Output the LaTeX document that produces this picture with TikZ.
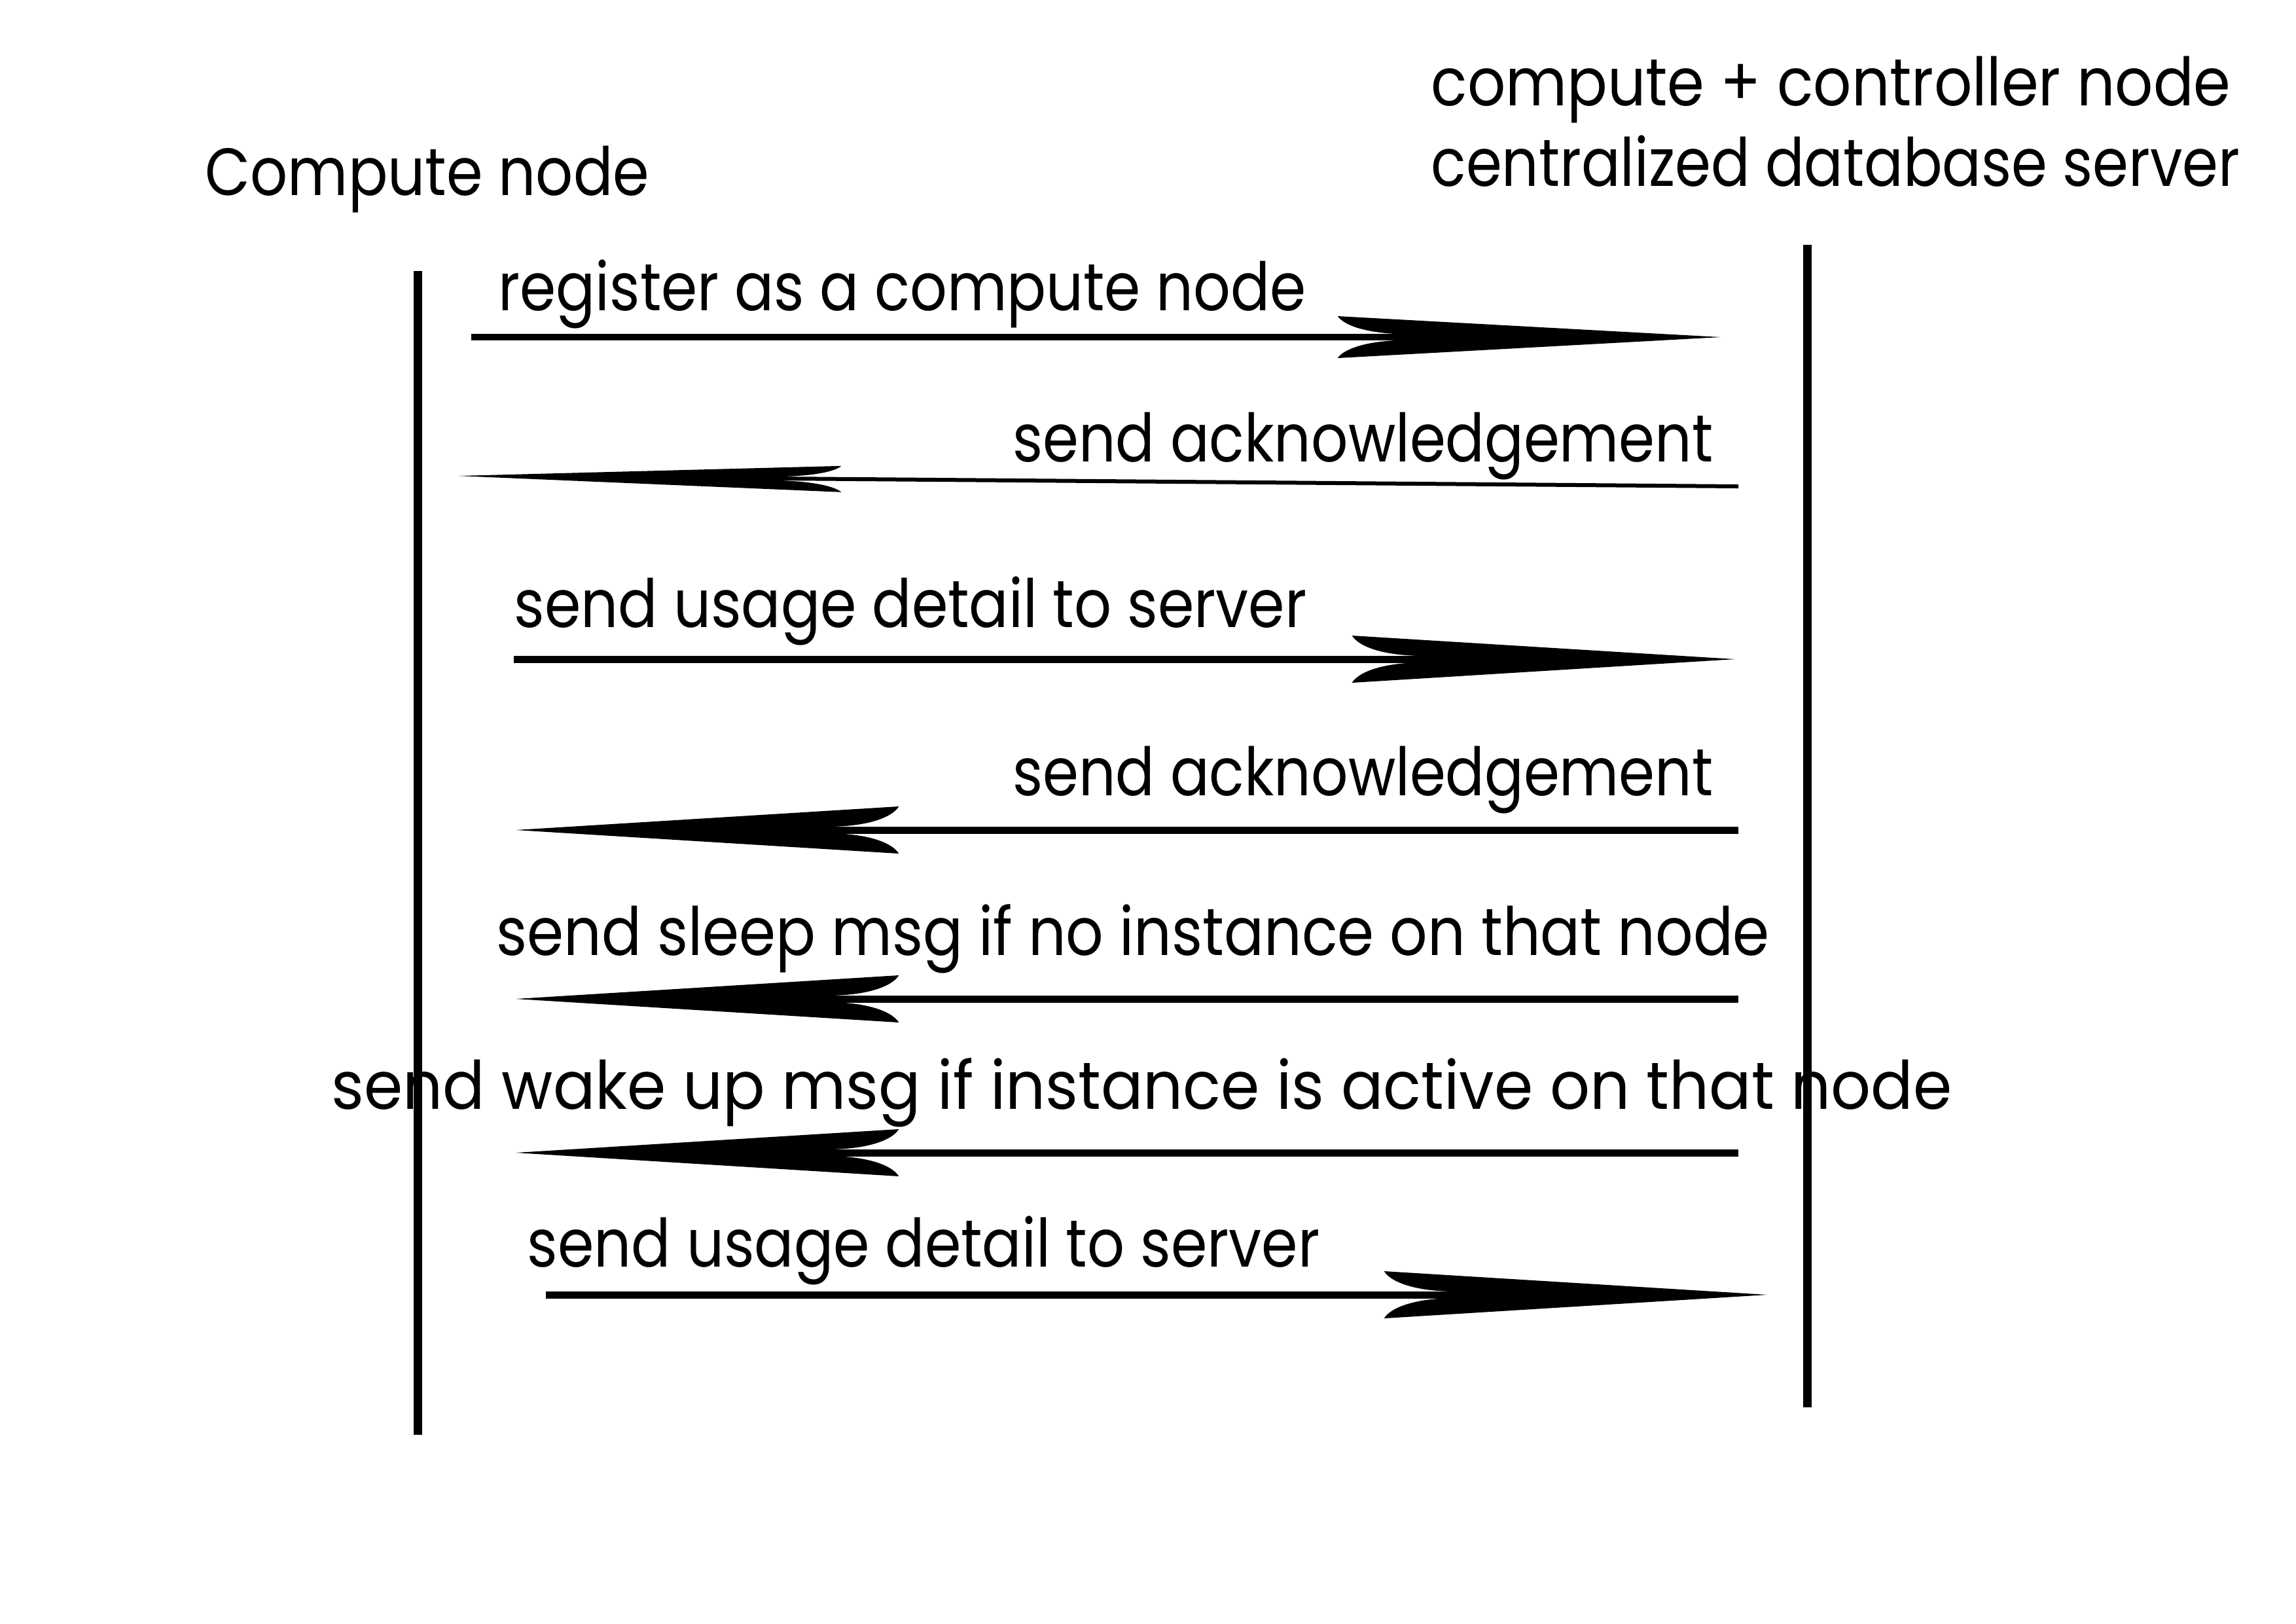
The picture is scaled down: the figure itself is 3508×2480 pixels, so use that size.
\documentclass[tikz,border=0pt]{standalone}
\usepackage{fontspec}
\setmainfont{Poppins}
\usetikzlibrary{decorations.markings}
\newcommand\fitw[2]{\resizebox{#1}{\height}{#2}}
\begin{document}
\begin{tikzpicture}[x=0.01cm,y=-0.01cm,
  lbl/.style={font=\fontsize{29}{34}\selectfont, inner sep=0pt, anchor=base west},
  lblr/.style={lbl, anchor=base east},
  life/.style={line width=0.13cm},
  msg/.style 2 args={line width=#1, shorten >=4.7cm,
    postaction={decorate, decoration={markings, mark=at position 1 with {
      \fill[shorten >=0pt] (0,0) -- (-5.85cm,#2) .. controls (-5.75cm,0.55*#2) and (-5.4cm,0.17*#2) .. (-4.82cm,0.14*#2)
        -- (-4.82cm,-0.14*#2) .. controls (-5.4cm,-0.17*#2) and (-5.75cm,-0.55*#2) .. (-5.85cm,-#2) -- cycle;}}}}
  ]
\useasboundingbox (0,0) rectangle (3508,2480);
\fill[white] (0,0) rectangle (3508,2480);
% lifelines
\coordinate (Lt) at (638,414); \coordinate (Lb) at (638,2192);
\coordinate (Rt) at (2761,374); \coordinate (Rb) at (2761,2150);
\draw[life] (Lt) -- (Lb);
\draw[life] (Rt) -- (Rb);
% titles
\node[lbl] (tl) at (313,298) {\fitw{6.78cm}{Compute node}};
\node[lbl] (tr1) at (2186,161) {\fitw{12.21cm}{compute + controller node}};
\node[lbl] (tr2) at (2186,284) {\fitw{12.35cm}{centralized database server}};
% messages
\coordinate (a1s) at (720,515); \coordinate (a1e) at (2629,515);
\node[lbl] (t1) at (761,474) {\fitw{12.33cm}{register as a compute node}};
\draw[msg={0.094cm}{0.32cm}] (a1s) -- (a1e);

\coordinate (a2s) at (2656,743); \coordinate (a2e) at (700,727);
\node[lblr] (t2) at (2618,705) {\fitw{10.69cm}{send acknowledgement}};
\draw[msg={0.06cm}{0.2cm}] (a2s) -- (a2e);

\coordinate (a3s) at (785,1007); \coordinate (a3e) at (2651,1007);
\node[lbl] (t3) at (785,958) {\fitw{12.10cm}{send usage detail to server}};
\draw[msg={0.11cm}{0.36cm}] (a3s) -- (a3e);

\coordinate (a4s) at (2656,1268); \coordinate (a4e) at (788,1268);
\node[lblr] (t4) at (2618,1215) {\fitw{10.69cm}{send acknowledgement}};
\draw[msg={0.11cm}{0.36cm}] (a4s) -- (a4e);

\coordinate (a5s) at (2656,1526); \coordinate (a5e) at (788,1526);
\node[lbl] (t5) at (758,1459) {\fitw{19.44cm}{send sleep msg if no instance on that node}};
\draw[msg={0.11cm}{0.36cm}] (a5s) -- (a5e);

\coordinate (a6s) at (2656,1761); \coordinate (a6e) at (788,1761);
\node[lbl] (t6) at (506,1694) {\fitw{24.74cm}{send wake up msg if instance is active on that node}};
\draw[msg={0.11cm}{0.36cm}] (a6s) -- (a6e);

\coordinate (a7s) at (834,1978); \coordinate (a7e) at (2700,1978);
\node[lbl] (t7) at (805,1935) {\fitw{12.10cm}{send usage detail to server}};
\draw[msg={0.11cm}{0.36cm}] (a7s) -- (a7e);
\end{tikzpicture}
\end{document}
